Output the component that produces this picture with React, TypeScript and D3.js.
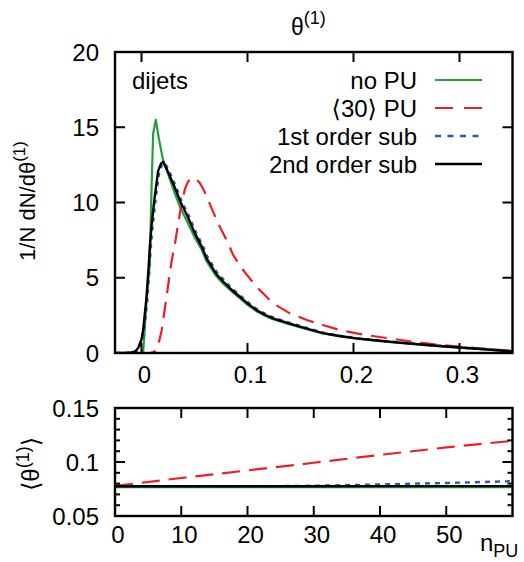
import React from "react";
import * as d3 from "d3";

// ---- theta^(1) distributions (1/N dN/dtheta) ----
const noPuTheta = [-0.025, 0.0015, 0.003, 0.0047, 0.0065, 0.0078, 0.0095, 0.011, 0.0135, 0.0165, 0.0204, 0.025, 0.0314, 0.037, 0.044, 0.05, 0.0566, 0.0613, 0.07, 0.077, 0.085, 0.0927, 0.1, 0.1085, 0.116, 0.124, 0.14, 0.156, 0.171, 0.187, 0.203, 0.218, 0.234, 0.25, 0.27, 0.29, 0.31, 0.33, 0.35];
const noPuValues = [0, 0, 1.5, 3.5, 4.9, 6.0, 11.0, 14.6, 15.5, 14.2, 12.8, 11.9, 10.6, 9.6, 8.6, 7.7, 6.9, 6.1, 5.15, 4.6, 4.1, 3.65, 3.2, 2.78, 2.5, 2.25, 1.9, 1.58, 1.3, 1.1, 0.95, 0.84, 0.73, 0.63, 0.51, 0.41, 0.31, 0.21, 0.08];

const pu30Theta = [-0.025, 0.008, 0.0125, 0.016, 0.019, 0.0236, 0.028, 0.0314, 0.0346, 0.038, 0.041, 0.044, 0.047, 0.051, 0.055, 0.059, 0.063, 0.0723, 0.0817, 0.0865, 0.096, 0.1085, 0.124, 0.14, 0.156, 0.171, 0.187, 0.203, 0.218, 0.234, 0.259, 0.28, 0.307, 0.33, 0.35];
const pu30Values = [0, 0, 0.1, 0.6, 1.5, 3.7, 5.95, 7.2, 8.6, 10.0, 10.9, 11.4, 11.6, 11.6, 11.3, 10.8, 10.15, 8.6, 7.3, 6.5, 5.5, 4.4, 3.3, 2.63, 2.19, 1.86, 1.53, 1.3, 1.13, 0.97, 0.72, 0.55, 0.37, 0.25, 0.14];

const subTheta = [-0.025, -0.015, -0.01, -0.006, -0.003, 0, 0.0015, 0.003, 0.0047, 0.0065, 0.0078, 0.0094, 0.0125, 0.0157, 0.0185, 0.0204, 0.024, 0.0314, 0.037, 0.044, 0.05, 0.0566, 0.0613, 0.07, 0.077, 0.085, 0.0927, 0.1, 0.1085, 0.116, 0.124, 0.14, 0.156, 0.171, 0.187, 0.203, 0.218, 0.234, 0.25, 0.27, 0.29, 0.31, 0.33, 0.35];
const sub1Values = [0, 0, 0.02, 0.08, 0.3, 0.8, 1.35, 2.3, 3.5, 5.3, 6.8, 8.2, 10.2, 11.9, 12.5, 12.65, 12.3, 11.1, 10.1, 9.1, 8.1, 7.2, 6.4, 5.4, 4.85, 4.25, 3.8, 3.35, 2.9, 2.6, 2.35, 1.98, 1.65, 1.35, 1.15, 0.99, 0.87, 0.76, 0.66, 0.54, 0.43, 0.33, 0.23, 0.1];
const sub2Values = [0, 0, 0.03, 0.1, 0.35, 0.9, 1.5, 2.5, 3.7, 5.5, 7.0, 8.4, 10.4, 12.1, 12.6, 12.7, 12.2, 11.0, 10.0, 9.0, 8.0, 7.1, 6.3, 5.3, 4.75, 4.2, 3.74, 3.3, 2.85, 2.55, 2.3, 1.95, 1.62, 1.32, 1.13, 0.97, 0.86, 0.75, 0.65, 0.53, 0.42, 0.32, 0.22, 0.1];

// ---- <theta^(1)> versus number of pileup vertices ----
const nPu = [0, 10, 20, 30, 40, 50, 60];
const meanNoPu = [0.0768, 0.0768, 0.0768, 0.0768, 0.0768, 0.0768, 0.0768];
const meanPu = [0.0778, 0.0852, 0.0922, 0.0993, 0.1066, 0.1135, 0.1196];
const meanSub1 = [0.0775, 0.0773, 0.0774, 0.078, 0.0792, 0.0806, 0.0822];
const meanSub2 = [0.0776, 0.0775, 0.0775, 0.0776, 0.0777, 0.0777, 0.0777];

// ---- axis ticks and legend ----
const thetaTicks = [0, 0.1, 0.2, 0.3];
const thetaTickLabels = ["0", "0.1", "0.2", "0.3"];
const densityTicks = [0, 5, 10, 15, 20];
const nPuTicks = [0, 10, 20, 30, 40, 50];
const meanTicks = [0.05, 0.1, 0.15];
const meanTickLabels = ["0.05", "0.1", "0.15"];
const meanMinorTicks = [0.06, 0.07, 0.08, 0.09, 0.11, 0.12, 0.13, 0.14];
const legendLabels = ["no PU", "\u27E830\u27E9 PU", "1st order sub", "2nd order sub"];

const GREEN = "#22a03c";
const RED = "#ee1c25";
const BLUE = "#3455b8";
const BLACK = "#000000";
const styles = [
  { color: GREEN, dash: undefined as string | undefined, width: 2.2 },
  { color: RED, dash: "16,9", width: 2.2 },
  { color: BLUE, dash: "4,5", width: 2.4 },
  { color: BLACK, dash: undefined as string | undefined, width: 2.4 },
];

const FONT = "'Liberation Sans', Arial, Helvetica, 'DejaVu Sans', sans-serif";

export default function App() {
  const W = 524;
  const H = 562;

  // main panel
  const top = { l: 115, r: 512.5, t: 52, b: 353 };
  const x = d3.scaleLinear().domain([-0.025, 0.35]).range([top.l, top.r]);
  const y = d3.scaleLinear().domain([0, 20]).range([top.b, top.t]);

  // ratio panel
  const bot = { l: 115, r: 512.5, t: 408, b: 516 };
  const xb = d3.scaleLinear().domain([0, 60]).range([bot.l, bot.r]);
  const yb = d3.scaleLinear().domain([0.05, 0.15]).range([bot.b, bot.t]);

  const topSeries = [
    { xs: noPuTheta, ys: noPuValues },
    { xs: pu30Theta, ys: pu30Values },
    { xs: subTheta.map((v) => v + 0.0008), ys: sub1Values },
    { xs: subTheta, ys: sub2Values },
  ];
  const botSeries = [meanNoPu, meanPu, meanSub1, meanSub2];

  const lineTop = d3
    .line<[number, number]>()
    .x((d) => x(d[0]))
    .y((d) => y(d[1]));
  const lineBot = d3
    .line<[number, number]>()
    .x((d) => xb(d[0]))
    .y((d) => yb(d[1]));

  const tickLen = 10;
  const minorLen = 5;
  const fs = 24;

  return (
    <svg
      width={W}
      height={H}
      style={{ position: "absolute", left: 0, top: 0, background: "#fff" }}
      fontFamily={FONT}
    >
      <defs>
        <clipPath id="clipTop">
          <rect x={top.l} y={top.t} width={top.r - top.l} height={top.b - top.t} />
        </clipPath>
        <clipPath id="clipBot">
          <rect x={bot.l} y={bot.t} width={bot.r - bot.l} height={bot.b - bot.t} />
        </clipPath>
      </defs>

      {/* title */}
      <text x={291} y={35} fontSize={23} fill="#000">
        θ<tspan dy={-11} fontSize={18}>(1)</tspan>
      </text>

      {/* main panel curves */}
      <g clipPath="url(#clipTop)">
        {topSeries.map((s, i) => (
          <path
            key={i}
            d={lineTop(s.xs.map((v, j) => [v, s.ys[j]] as [number, number])) || ""}
            fill="none"
            stroke={styles[i].color}
            strokeWidth={styles[i].width}
            strokeDasharray={styles[i].dash}
            strokeLinejoin="round"
          />
        ))}
      </g>

      {/* main panel ticks */}
      {thetaTicks.map((t, i) => (
        <g key={"xt" + i}>
          <line x1={x(t)} x2={x(t)} y1={top.b} y2={top.b - tickLen} stroke="#000" strokeWidth={2} />
          <line x1={x(t)} x2={x(t)} y1={top.t} y2={top.t + tickLen} stroke="#000" strokeWidth={2} />
          <text x={x(t) + 3} y={383} fontSize={fs} textAnchor="middle" fill="#000">
            {thetaTickLabels[i]}
          </text>
        </g>
      ))}
      {densityTicks.map((t, i) => (
        <g key={"yt" + i}>
          <line x1={top.l} x2={top.l + tickLen} y1={y(t)} y2={y(t)} stroke="#000" strokeWidth={2} />
          <line x1={top.r} x2={top.r - tickLen} y1={y(t)} y2={y(t)} stroke="#000" strokeWidth={2} />
          <text x={99} y={y(t) + 8.5} fontSize={fs} textAnchor="end" fill="#000">
            {String(t)}
          </text>
        </g>
      ))}
      <rect
        x={top.l}
        y={top.t}
        width={top.r - top.l}
        height={top.b - top.t}
        fill="none"
        stroke="#000"
        strokeWidth={2.4}
      />

      {/* y label */}
      <text transform="translate(35,201) rotate(-90)" fontSize={22} textAnchor="middle" fill="#000">
        1/N dN/dθ<tspan dy={-10} fontSize={17}>(1)</tspan>
      </text>

      {/* process label */}
      <text x={132} y={89} fontSize={fs} fill="#000">
        dijets
      </text>

      {/* legend */}
      {legendLabels.map((lab, i) => {
        const base = 89 + i * 28;
        return (
          <g key={"lg" + i}>
            <text x={417} y={base} fontSize={fs} textAnchor="end" fill="#000">
              {lab}
            </text>
            <line
              x1={435}
              x2={482}
              y1={base - 9}
              y2={base - 9}
              stroke={styles[i].color}
              strokeWidth={styles[i].width}
              strokeDasharray={i === 1 ? "18,11" : i === 2 ? "6,6.5" : undefined}
            />
          </g>
        );
      })}

      {/* ratio panel curves */}
      <g clipPath="url(#clipBot)">
        {botSeries.map((s, i) => (
          <path
            key={i}
            d={lineBot(nPu.map((v, j) => [v, s[j]] as [number, number])) || ""}
            fill="none"
            stroke={styles[i].color}
            strokeWidth={i === 0 ? 2.6 : styles[i].width}
            strokeDasharray={i === 1 ? "18,9" : i === 2 ? "5,5" : undefined}
          />
        ))}
      </g>

      {/* ratio panel ticks */}
      {nPuTicks.map((t, i) => (
        <g key={"bxt" + i}>
          <line x1={xb(t)} x2={xb(t)} y1={bot.b} y2={bot.b - tickLen} stroke="#000" strokeWidth={2} />
          <line x1={xb(t)} x2={xb(t)} y1={bot.t} y2={bot.t + tickLen} stroke="#000" strokeWidth={2} />
          <text x={xb(t) + 3} y={542.5} fontSize={fs} textAnchor="middle" fill="#000">
            {String(t)}
          </text>
        </g>
      ))}
      {meanTicks.map((t, i) => (
        <g key={"byt" + i}>
          <line x1={bot.l} x2={bot.l + tickLen} y1={yb(t)} y2={yb(t)} stroke="#000" strokeWidth={2} />
          <line x1={bot.r} x2={bot.r - tickLen} y1={yb(t)} y2={yb(t)} stroke="#000" strokeWidth={2} />
          <text x={99} y={yb(t) + 8.5} fontSize={fs} textAnchor="end" fill="#000">
            {meanTickLabels[i]}
          </text>
        </g>
      ))}
      {meanMinorTicks.map((t, i) => (
        <g key={"bmt" + i}>
          <line x1={bot.l} x2={bot.l + minorLen} y1={yb(t)} y2={yb(t)} stroke="#000" strokeWidth={2} />
          <line x1={bot.r} x2={bot.r - minorLen} y1={yb(t)} y2={yb(t)} stroke="#000" strokeWidth={2} />
        </g>
      ))}
      <rect
        x={bot.l}
        y={bot.t}
        width={bot.r - bot.l}
        height={bot.b - bot.t}
        fill="none"
        stroke="#000"
        strokeWidth={2.4}
      />

      {/* ratio panel labels */}
      <text transform="translate(39,464) rotate(-90)" fontSize={24} textAnchor="middle" fill="#000">
        {"\u27E8"}θ<tspan dy={-10} fontSize={18}>(1)</tspan>
        <tspan dy={10}>{"\u27E9"}</tspan>
      </text>
      <text x={480} y={551} fontSize={fs} fill="#000">
        n<tspan dy={6} fontSize={18}>PU</tspan>
      </text>
    </svg>
  );
}
